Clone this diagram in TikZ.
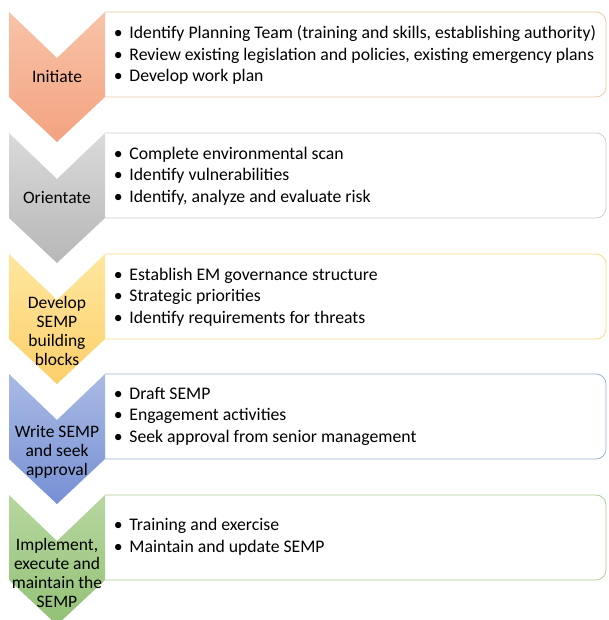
\documentclass[tikz,border=0pt]{standalone}
\usepackage{fontspec}
\setmainfont{Carlito}
\usetikzlibrary{shapes}

\definecolor{orangeTop}{RGB}{248,195,168}
\definecolor{orangeBot}{RGB}{243,163,128}
\definecolor{orangeLine}{RGB}{233,200,160}
\definecolor{grayTop}{RGB}{218,218,218}
\definecolor{grayBot}{RGB}{183,183,183}
\definecolor{grayLine}{RGB}{205,205,205}
\definecolor{yellowTop}{RGB}{255,231,160}
\definecolor{yellowBot}{RGB}{252,207,105}
\definecolor{yellowLine}{RGB}{245,220,130}
\definecolor{blueTop}{RGB}{170,186,228}
\definecolor{blueBot}{RGB}{118,144,212}
\definecolor{blueLine}{RGB}{155,176,206}
\definecolor{greenTop}{RGB}{183,215,160}
\definecolor{greenBot}{RGB}{146,193,118}
\definecolor{greenLine}{RGB}{170,205,145}

\tikzset{
  steptext/.style={align=center, inner sep=0.75pt, font=\fontsize{17.5}{19}\selectfont},
  listtext/.style={anchor=west, align=left, inner sep=0.75pt, font=\fontsize{17.7}{21.5}\selectfont},
  listbox/.style={fill=white, line width=0.75pt, rounded corners=10pt}
}
\newcommand{\bul}{\makebox[15.5pt][l]{\textbullet}}

\begin{document}
\begin{tikzpicture}[x=1pt,y=1pt,yscale=-1,xscale=1]
\useasboundingbox (0,0) rectangle (608,620);

%Rounded Rect: Initiate
\draw [listbox, draw=orangeLine] (105,12) -- (606,12) -- (606,97) -- (105,97) ;
%Shape: Chevron
\shade [top color=orangeTop, bottom color=orangeBot] (9,12) -- (57,58) -- (105,12) -- (105,97) -- (57,142) -- (9,97) -- cycle ;
%Rounded Rect: Orientate
\draw [listbox, draw=grayLine] (105,133) -- (606,133) -- (606,218) -- (105,218) ;
%Shape: Chevron
\shade [top color=grayTop, bottom color=grayBot] (9,133) -- (57,179) -- (105,133) -- (105,218) -- (57,263) -- (9,218) -- cycle ;
%Rounded Rect: Develop
\draw [listbox, draw=yellowLine] (105,254) -- (606,254) -- (606,339) -- (105,339) ;
%Shape: Chevron
\shade [top color=yellowTop, bottom color=yellowBot] (9,254) -- (57,300) -- (105,254) -- (105,339) -- (57,384) -- (9,339) -- cycle ;
%Rounded Rect: Write
\draw [listbox, draw=blueLine] (105,374) -- (606,374) -- (606,459) -- (105,459) ;
%Shape: Chevron
\shade [top color=blueTop, bottom color=blueBot] (9,374) -- (57,420) -- (105,374) -- (105,459) -- (57,504) -- (9,459) -- cycle ;
%Rounded Rect: Implement
\draw [listbox, draw=greenLine] (105,495) -- (606,495) -- (606,580) -- (105,580) ;
%Shape: Chevron
\shade [top color=greenTop, bottom color=greenBot] (9,495) -- (57,541) -- (105,495) -- (105,580) -- (57,625) -- (9,580) -- cycle ;

% Text Node
\node (initiate) at (57,77) [steptext] {Initiate};
% Text Node
\node (orientate) at (57,198) [steptext] {Orientate};
% Text Node
\node (develop) at (57,331) [steptext] {Develop\\SEMP\\building\\blocks};
% Text Node
\node (write) at (57,452) [steptext] {Write SEMP\\and seek\\approval};
% Text Node
\node (implement) at (57,573) [steptext] {Implement,\\execute and\\maintain the\\SEMP};

% Text Node
\node (initlist) at (113,55) [listtext] {\bul Identify Planning Team (training and skills, establishing authority)\\\bul Review existing legislation and policies, existing emergency plans\\\bul Develop work plan};
% Text Node
\node (orientlist) at (113,176) [listtext] {\bul Complete environmental scan\\\bul Identify vulnerabilities\\\bul Identify, analyze and evaluate risk};
% Text Node
\node (devlist) at (113,297) [listtext] {\bul Establish EM governance structure\\\bul Strategic priorities\\\bul Identify requirements for threats};
% Text Node
\node (writelist) at (113,416) [listtext] {\bul Draft SEMP\\\bul Engagement activities\\\bul Seek approval from senior management};
% Text Node
\node (impllist) at (113,537) [listtext] {\bul Training and exercise\\\bul Maintain and update SEMP};

\end{tikzpicture}
\end{document}
